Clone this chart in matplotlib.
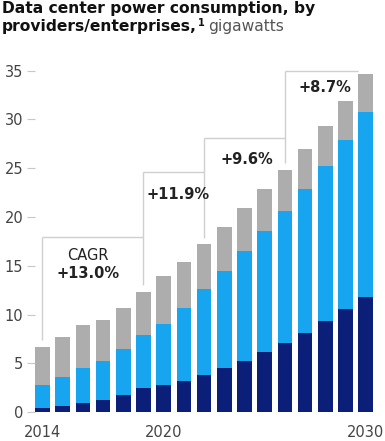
import matplotlib
matplotlib.use("Agg")
import matplotlib.pyplot as plt

years = list(range(2014, 2031))
navy = [0.4, 0.68, 0.92, 1.23, 1.77, 2.46, 2.77, 3.24, 3.82, 4.5, 5.29, 6.15, 7.07, 8.16, 9.35, 10.55, 11.84]
blue_top = [2.8, 3.58, 4.57, 5.26, 6.49, 7.92, 9.0, 10.69, 12.65, 14.48, 16.56, 18.61, 20.66, 22.85, 25.24, 27.9, 30.74]
total = [6.66, 7.68, 8.94, 9.42, 10.72, 12.33, 13.93, 15.37, 17.2, 19.02, 20.96, 22.91, 24.86, 27.0, 29.33, 31.86, 34.66]
blue = [b - n for b, n in zip(blue_top, navy)]
gray = [t - b for t, b in zip(total, blue_top)]

yticks = [0, 5, 10, 15, 20, 25, 30, 35]
xlabel_years = [2014, 2020, 2030]
cagr_labels = ["+13.0%", "+11.9%", "+9.6%", "+8.7%"]
bracket_years = [2014, 2019, 2022, 2026, 2030]
bracket_levels = [18.0, 24.6, 28.1, 35.0]

C_NAVY = "#0b1e78"
C_BLUE = "#17a5f0"
C_GRAY = "#adadad"
C_LINE = "#cfcfcf"

W, H = 385, 441
fig = plt.figure(figsize=(W / 100, H / 100), dpi=100)
left_px, right_px = 35.0, 377.8
bot_px, top_px = 412.3, 60.9
ax = fig.add_axes([left_px / W, 1 - bot_px / H, (right_px - left_px) / W, (bot_px - top_px) / H])

x = list(range(len(years)))
bw = 0.73
ax.bar(x, navy, bw, color=C_NAVY, zorder=2)
ax.bar(x, blue, bw, bottom=navy, color=C_BLUE, zorder=2)
ax.bar(x, gray, bw, bottom=blue_top, color=C_GRAY, zorder=2)

ax.set_xlim(-0.37, 16.6)
ax.set_ylim(0, 36)
for s in ax.spines.values():
    s.set_visible(False)

ax.set_yticks(yticks)
ax.set_yticklabels([str(v) for v in yticks])
ax.tick_params(axis="y", length=6, width=0.8, color="#c8c8c8", pad=2.5,
               labelsize=10.5, labelcolor="#444444")
ax.set_xticks([years.index(y) for y in xlabel_years])
ax.set_xticklabels([str(y) for y in xlabel_years])
ax.tick_params(axis="x", length=0, pad=9, labelsize=10.5, labelcolor="#444444")

# bracket step lines
idx = [years.index(y) for y in bracket_years]
gap = 0.7
lw = 1.0
for k in range(4):
    xs = idx[k]
    xe = idx[k + 1]
    lvl = bracket_levels[k]
    ax.plot([xs, xs], [total[xs] + gap, lvl], color=C_LINE, lw=lw, zorder=1, solid_capstyle="butt")
    xend = xe if k < 3 else xe - bw / 2
    ax.plot([xs, xend], [lvl, lvl], color=C_LINE, lw=lw, zorder=1, solid_capstyle="butt")

# labels
ax.text(2.25, 16.1, "CAGR", ha="center", va="center", fontsize=10.5, color="#222222")
ax.text(2.25, 14.2, cagr_labels[0], ha="center", va="center", fontsize=10.5,
        fontweight="bold", color="#222222")
ax.text(5.15, 22.3, cagr_labels[1], ha="left", va="center", fontsize=10.5,
        fontweight="bold", color="#222222")
ax.text(8.8, 25.85, cagr_labels[2], ha="left", va="center", fontsize=10.5,
        fontweight="bold", color="#222222")
ax.text(12.65, 33.25, cagr_labels[3], ha="left", va="center", fontsize=10.5,
        fontweight="bold", color="#222222")

# title
t1 = fig.text(2 / W, 1 - 8 / H, "Data center power consumption, by", ha="left", va="center",
              fontsize=11.2, fontweight="bold", color="#111111")
t2 = fig.text(2 / W, 1 - 27 / H, "providers/enterprises,", ha="left", va="center",
              fontsize=11.2, fontweight="bold", color="#111111")
fig.canvas.draw()
r = fig.canvas.get_renderer()
bb = t2.get_window_extent(r)
inv = fig.transFigure.inverted()
x2 = inv.transform((bb.x1, 0))[0]
t3 = fig.text(x2 + 1 / W, 1 - 23 / H, "1", ha="left", va="center", fontsize=7,
              fontweight="bold", color="#111111")
bb3 = t3.get_window_extent(r)
x3 = inv.transform((bb3.x1, 0))[0]
fig.text(x3 + 3 / W, 1 - 27 / H, "gigawatts", ha="left", va="center",
         fontsize=11.2, color="#555555")

fig.savefig("out.png", dpi=100)
